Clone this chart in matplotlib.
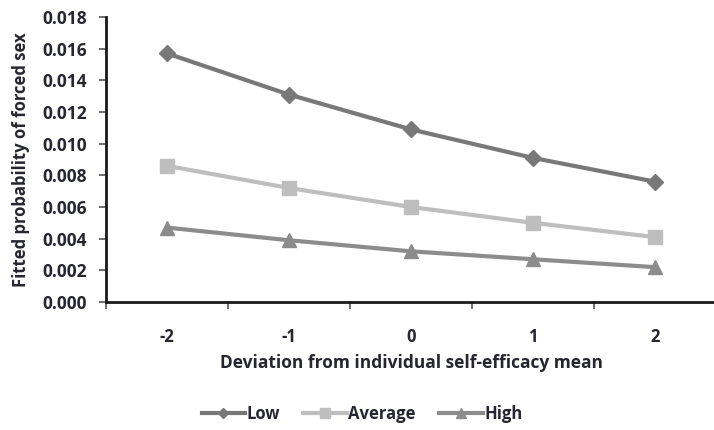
import matplotlib.pyplot as plt
import numpy as np

plt.rcParams["font.family"] = ["Open Sans", "DejaVu Sans"]

x_vals = [-2, -1, 0, 1, 2]
x_labels = ["-2", "-1", "0", "1", "2"]
low = [0.0157, 0.0131, 0.0109, 0.0091, 0.0076]
average = [0.0086, 0.0072, 0.0060, 0.0050, 0.0041]
high = [0.0047, 0.0039, 0.0032, 0.0027, 0.0022]
y_ticks = np.arange(0, 0.0181, 0.002)

W, H = 714, 430
txt = "#262630"

fig = plt.figure(figsize=(W / 100, H / 100), dpi=100)
ax = fig.add_axes([106 / W, 128 / H, 610 / W, 285 / H])

ax.plot(x_vals, low, color="#787878", lw=3, marker="D", ms=8, label="Low")
ax.plot(x_vals, average, color="#bebebe", lw=3, marker="s", ms=10, label="Average")
ax.plot(x_vals, high, color="#8c8c8c", lw=3, marker="^", ms=10, label="High")

ax.set_xlim(-2.5, 2.5)
ax.set_ylim(0, 0.018)
ax.set_yticks(y_ticks)
ax.set_yticklabels([f"{v:.3f}" for v in y_ticks])
ax.set_xticks(x_vals)
ax.set_xticklabels(x_labels)
ax.set_xticks(np.arange(-2.5, 2.6, 1.0), minor=True)
ax.tick_params(axis="x", which="major", length=0, pad=19)
ax.tick_params(axis="x", which="minor", length=5, width=1.2, direction="out", color="#555555")
ax.tick_params(axis="y", length=5, width=1.2, direction="out", color="#555555", pad=9)
for lab in ax.get_xticklabels():
    lab.set_fontweight("bold")
    lab.set_fontsize(12)
    lab.set_color(txt)
for lab in ax.get_yticklabels():
    lab.set_fontweight("bold")
    lab.set_fontsize(12.5)
    lab.set_color(txt)

for s in ["top", "right"]:
    ax.spines[s].set_visible(False)
for s in ["left", "bottom"]:
    ax.spines[s].set_linewidth(2)
    ax.spines[s].set_color("#1a1a1a")

fig.text(412 / W, 1 - 363 / H, "Deviation from individual self-efficacy mean",
         ha="center", va="center", fontsize=12.5, fontweight="bold", color=txt)
fig.text(21 / W, 1 - 160 / H, "Fitted probability of forced sex", rotation=90,
         ha="center", va="center", fontsize=12, fontweight="bold", color=txt)

leg = fig.legend(loc="center", bbox_to_anchor=(362 / W, 1 - 414 / H), ncol=3, frameon=False,
                 handlelength=2.6, columnspacing=1.4, handletextpad=0.1, markerscale=0.7,
                 prop={"weight": "bold", "size": 12}, labelcolor=txt)

fig.savefig("out.png", dpi=100)
